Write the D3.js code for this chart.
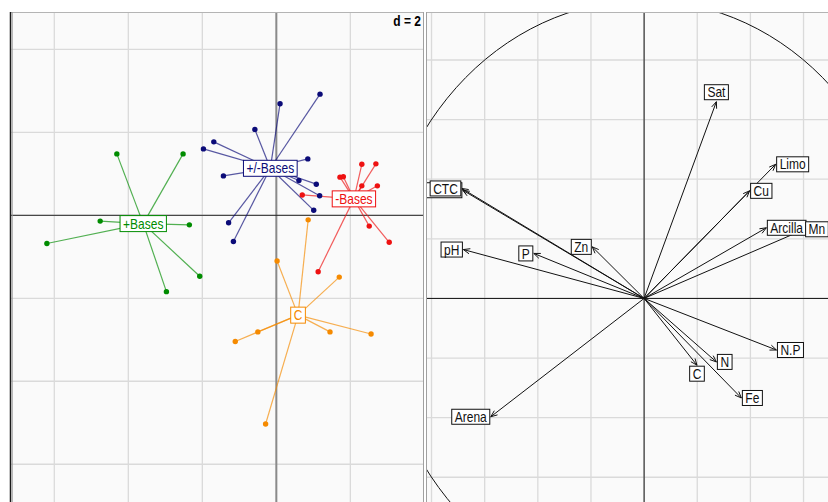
<!DOCTYPE html>
<html>
<head>
<meta charset="utf-8">
<script src="https://cdn.jsdelivr.net/npm/d3@7"></script>
<style>
  body { margin: 0; background: #ffffff; }
  svg { display: block; }
  text { font-family: "Liberation Sans", Arial, sans-serif; }
</style>
</head>
<body>
<svg id="chart" width="828" height="502"></svg>
<script>
// ---- Row scores by class (first factorial plane) ----
const classNames  = ["+Bases", "+/-Bases", "-Bases", "C"];
const classColors = ["#008c00", "#0b0b78", "#ee1111", "#f58a00"];

const plusBasesX = [-4.31, -2.52, -4.76, -2.35, -6.20, -2.97, -2.07];
const plusBasesY = [ 1.48,  1.48, -0.14, -0.23, -0.68, -1.84, -1.47];

const mixBasesX = [1.18, 0.10, -0.58, -1.69, -1.97, 0.85, -1.43, 0.61, 1.08, 1.17, 1.01, -1.29, -1.16];
const mixBasesY = [2.92, 2.69,  2.07,  1.77,  1.60, 1.36,  0.95, 0.84, 0.75, 0.47, 0.12, -0.18, -0.63];

const minusBasesX = [2.31, 2.69, 1.72, 1.81, 2.31, 2.73, 0.70, 2.51, 3.05, 1.13];
const minusBasesY = [1.23, 1.24, 0.92, 0.93, 0.71, 0.71, 0.49, -0.26, -0.65, -1.36];

const classCX = [0.86, 0.02, 1.70, -0.50, -1.11, 1.45, 2.56, -0.29];
const classCY = [-0.11, -1.10, -1.49, -2.81, -3.04, -2.81, -2.86, -5.03];

const gridStep = 2;

// ---- Variable correlations (correlation circle) ----
const varNames = ["Sat", "Limo", "Cu", "Arcilla", "Mn", "Ca.Mg", "CTC", "pH", "P", "Zn", "Arena", "N.P", "N", "C", "Fe"];
const varX = [0.272, 0.495, 0.397, 0.460, 0.604, -0.682, -0.686, -0.680, -0.415, -0.195, -0.577, 0.498, 0.272, 0.199, 0.366];
const varY = [0.660, 0.450, 0.361, 0.237, 0.232,  0.363,  0.369,  0.164,  0.151,  0.173, -0.397, -0.173, -0.213, -0.224, -0.334];
// labels whose box sits entirely under a neighbouring label: only the box edge shows
const coveredLabels = ["Ca.Mg"];

const classes = [
  { xs: plusBasesX,  ys: plusBasesY },
  { xs: mixBasesX,   ys: mixBasesY },
  { xs: minusBasesX, ys: minusBasesY },
  { xs: classCX,     ys: classCY }
].map((d, i) => ({ name: classNames[i], color: classColors[i],
  pts: d.xs.map((x, j) => ({ x, y: d.ys[j] })) }));

const vars = varNames.map((n, i) => ({ name: n, x: varX[i], y: varY[i] }));

const svg = d3.select("#chart");
const defs = svg.append("defs");
const TEXT_STRETCH = 1.2;

// ---------- Left panel ----------
const L = { x0: 11, x1: 424, y0: 12, y1: 502 };
const xL = d3.scaleLinear().domain([-7.17, 3.99]).range([L.x0, L.x1]);
const yL = d3.scaleLinear().domain([4.9, -6.91]).range([L.y0, L.y1]);

defs.append("clipPath").attr("id", "clipL")
  .append("rect").attr("x", L.x0).attr("y", L.y0).attr("width", L.x1 - L.x0).attr("height", L.y1 - L.y0);

const left = svg.append("g").attr("clip-path", "url(#clipL)");
left.append("rect").attr("x", L.x0).attr("y", L.y0)
  .attr("width", L.x1 - L.x0).attr("height", L.y1 - L.y0).attr("fill", "#fafafa");

const gxL = d3.range(-6, 4.01, gridStep);
const gyL = d3.range(-6, 4.01, gridStep);
left.selectAll("line.gx").data(gxL).join("line")
  .attr("x1", d => xL(d)).attr("x2", d => xL(d)).attr("y1", L.y0).attr("y2", L.y1)
  .attr("stroke", "#dadada").attr("stroke-width", 1.3);
left.selectAll("line.gy").data(gyL).join("line")
  .attr("y1", d => yL(d)).attr("y2", d => yL(d)).attr("x1", L.x0).attr("x2", L.x1)
  .attr("stroke", "#dadada").attr("stroke-width", 1.3);

// axes through the origin
left.append("line").attr("x1", xL(0)).attr("x2", xL(0)).attr("y1", L.y0).attr("y2", L.y1)
  .attr("stroke", "#8a8a8a").attr("stroke-width", 2);
left.append("line").attr("y1", yL(0)).attr("y2", yL(0)).attr("x1", L.x0).attr("x2", L.x1)
  .attr("stroke", "#222").attr("stroke-width", 1);

// stars: each point linked to its class centroid
classes.forEach(c => {
  c.cx = d3.mean(c.pts, p => p.x);
  c.cy = d3.mean(c.pts, p => p.y);
});
classes.forEach(c => {
  left.append("g").selectAll("line").data(c.pts).join("line")
    .attr("x1", xL(c.cx)).attr("y1", yL(c.cy))
    .attr("x2", p => xL(p.x)).attr("y2", p => yL(p.y))
    .attr("stroke", c.color).attr("stroke-opacity", 0.68).attr("stroke-width", 1.2);
});
classes.forEach(c => {
  left.append("g").selectAll("circle").data(c.pts).join("circle")
    .attr("cx", p => xL(p.x)).attr("cy", p => yL(p.y)).attr("r", 2.7)
    .attr("fill", c.color);
});

function textWidth(parent, txt) {
  const tmp = parent.append("text").attr("font-size", 12).text(txt);
  const w = tmp.node().getComputedTextLength();
  tmp.remove();
  return w;
}

function boxedLabel(parent, cx, cy, txt, color, h, showText) {
  const g = parent.append("g");
  const w = textWidth(g, txt) + 6;
  g.append("rect").attr("fill", "#fff").attr("stroke", color).attr("stroke-width", 1)
    .attr("x", cx - w / 2).attr("y", cy - h / 2).attr("width", w).attr("height", h);
  if (showText !== false) {
    g.append("text").attr("font-size", 12).attr("fill", color)
      .attr("text-anchor", "middle").attr("dy", "0.36em")
      .attr("transform", `translate(${cx},${cy}) scale(1,${TEXT_STRETCH})`).text(txt);
  }
  return w;
}

classes.forEach(c => {
  boxedLabel(left, xL(c.cx), yL(c.cy), c.name, c.color, 16);
});

left.append("text").attr("font-size", 12).attr("font-weight", "bold").attr("fill", "#000")
  .attr("text-anchor", "end")
  .attr("transform", `translate(421,26) scale(1,${TEXT_STRETCH})`)
  .text("d = " + gridStep);

// ---------- Right panel ----------
const R = { x0: 427, x1: 828, y0: 12, y1: 502 };
const xR = d3.scaleLinear().domain([-0.817, 0.692]).range([R.x0, R.x1]);
const yR = d3.scaleLinear().domain([0.961, -0.683]).range([R.y0, R.y1]);

defs.append("clipPath").attr("id", "clipR")
  .append("rect").attr("x", R.x0).attr("y", R.y0).attr("width", R.x1 - R.x0).attr("height", R.y1 - R.y0);

const right = svg.append("g").attr("clip-path", "url(#clipR)");
right.append("rect").attr("x", R.x0).attr("y", R.y0)
  .attr("width", R.x1 - R.x0).attr("height", R.y1 - R.y0).attr("fill", "#fafafa");

const gR = d3.range(-1, 1.001, 0.2).map(v => +v.toFixed(1));
right.selectAll("line.gx").data(gR).join("line")
  .attr("x1", d => xR(d)).attr("x2", d => xR(d)).attr("y1", R.y0).attr("y2", R.y1)
  .attr("stroke", "#dadada").attr("stroke-width", 1.3);
right.selectAll("line.gy").data(gR).join("line")
  .attr("y1", d => yR(d)).attr("y2", d => yR(d)).attr("x1", R.x0).attr("x2", R.x1)
  .attr("stroke", "#dadada").attr("stroke-width", 1.3);

right.append("line").attr("x1", xR(0)).attr("x2", xR(0)).attr("y1", R.y0).attr("y2", R.y1)
  .attr("stroke", "#111").attr("stroke-width", 1);
right.append("line").attr("y1", yR(0)).attr("y2", yR(0)).attr("x1", R.x0).attr("x2", R.x1)
  .attr("stroke", "#111").attr("stroke-width", 1);

// unit correlation circle
right.append("ellipse").attr("cx", xR(0)).attr("cy", yR(0))
  .attr("rx", xR(1) - xR(0)).attr("ry", yR(0) - yR(1))
  .attr("fill", "none").attr("stroke", "#111").attr("stroke-width", 1);

// arrows
const ox = xR(0), oy = yR(0);
const headLen = 7, headAng = 22 * Math.PI / 180;
vars.forEach(v => {
  const px = xR(v.x), py = yR(v.y);
  const a = Math.atan2(py - oy, px - ox);
  right.append("line").attr("x1", ox).attr("y1", oy).attr("x2", px).attr("y2", py)
    .attr("stroke", "#111").attr("stroke-width", 1);
  const p1 = [px - headLen * Math.cos(a - headAng), py - headLen * Math.sin(a - headAng)];
  const p2 = [px - headLen * Math.cos(a + headAng), py - headLen * Math.sin(a + headAng)];
  right.append("path").attr("d", `M${p1}L${px},${py}L${p2}`)
    .attr("fill", "none").attr("stroke", "#111").attr("stroke-width", 1);
});

// labels next to arrow tips
vars.forEach(v => {
  const px = xR(v.x), py = yR(v.y);
  const g = right.append("g");
  const w = textWidth(g, v.name) + 6;
  const h = 15;
  let cx, cy;
  if (Math.abs(v.x) >= Math.abs(v.y)) {
    cx = v.x > 0 ? px + 1 + w / 2 : px - 1 - w / 2;
    cy = py;
  } else {
    cx = px;
    cy = v.y > 0 ? py - 2 - h / 2 : py + 1 + h / 2;
  }
  boxedLabel(g, cx, cy, v.name, "#111", h, !coveredLabels.includes(v.name));
});

// ---------- Panel frames ----------
svg.append("line").attr("x1", L.x0).attr("x2", L.x1).attr("y1", 12.5).attr("y2", 12.5)
  .attr("stroke", "#b4b4b4");
svg.append("line").attr("x1", R.x0).attr("x2", R.x1).attr("y1", 12.5).attr("y2", 12.5)
  .attr("stroke", "#b4b4b4");
svg.append("line").attr("x1", 10.5).attr("x2", 10.5).attr("y1", 12).attr("y2", 502)
  .attr("stroke", "#1a1a1a").attr("stroke-width", 1.5);
svg.append("line").attr("x1", 12.2).attr("x2", 12.2).attr("y1", 12).attr("y2", 502)
  .attr("stroke", "#9a9a9a").attr("stroke-width", 1);
svg.append("line").attr("x1", 423.5).attr("x2", 423.5).attr("y1", 12).attr("y2", 502)
  .attr("stroke", "#a0a0a0").attr("stroke-width", 1);
svg.append("line").attr("x1", 426.5).attr("x2", 426.5).attr("y1", 12).attr("y2", 502)
  .attr("stroke", "#a0a0a0").attr("stroke-width", 1);
</script>
</body>
</html>
